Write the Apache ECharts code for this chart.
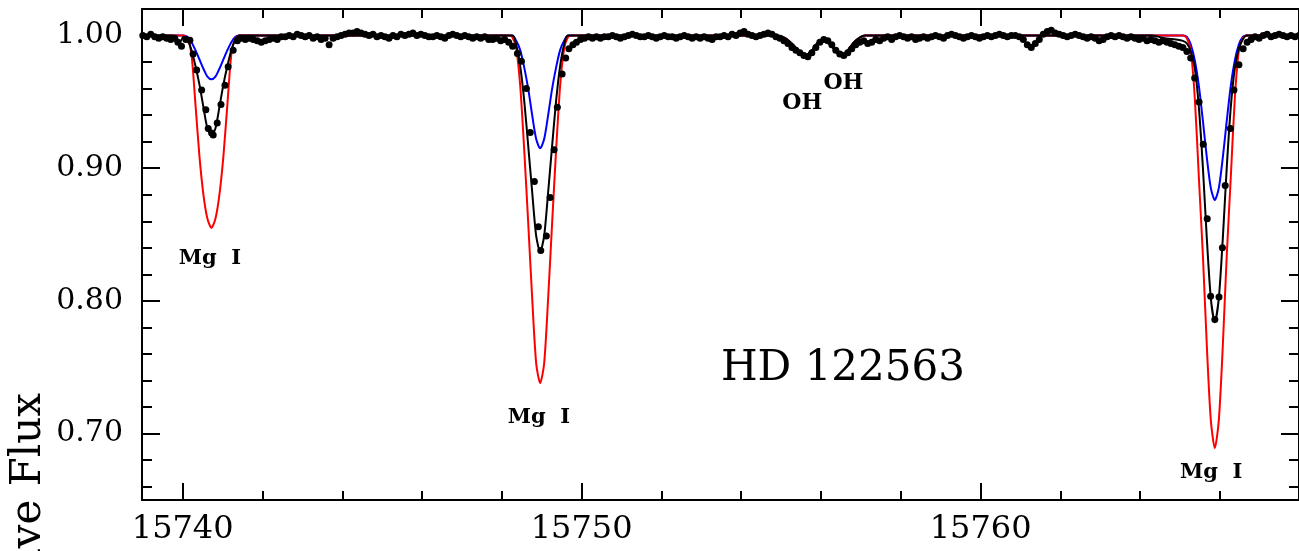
<!DOCTYPE html>
<html><head><meta charset="utf-8">
<script src="https://cdn.jsdelivr.net/npm/echarts@6/dist/echarts.min.js"></script>
<style>html,body{margin:0;padding:0;background:#fff}#c{width:1299px;height:551px}</style>
</head><body><div id="c"></div>
<script>
// ---- axis ranges and ticks ----
const xMin = 15738.98, xMax = 15767.98;
const yMin = 0.65, yMax = 1.02;
const xMajorTicks = [15740, 15750, 15760];
const xMinorTicks = [15740, 15742, 15744, 15746, 15748, 15750, 15752, 15754, 15756, 15758, 15760, 15762, 15764, 15766];
const yMajorTicks = [0.70, 0.80, 0.90, 1.00];
const yMinorTicks = [0.66, 0.68, 0.70, 0.72, 0.74, 0.76, 0.78, 0.80, 0.82, 0.84, 0.86, 0.88, 0.90, 0.92, 0.94, 0.96, 0.98, 1.00];

// ---- synthetic spectra [wavelength, flux] ----
const blueModel = [
 [15738.98,1.000],[15740.02,1.000],[15740.12,0.999],[15740.22,0.995],[15740.32,0.989],[15740.42,0.982],[15740.52,0.975],[15740.62,0.969],[15740.72,0.967],[15740.82,0.969],[15740.92,0.975],[15741.02,0.982],[15741.12,0.989],[15741.22,0.995],[15741.32,0.999],[15741.42,1.000],
 [15748.26,1.000],[15748.36,0.996],[15748.46,0.989],[15748.56,0.976],[15748.66,0.960],[15748.76,0.940],[15748.86,0.922],[15748.96,0.915],[15749.06,0.922],[15749.16,0.940],[15749.26,0.960],[15749.36,0.976],[15749.46,0.989],[15749.56,0.996],[15749.66,1.000],
 [15754.90,1.000],[15755.10,0.998],[15755.30,0.993],[15755.45,0.988],[15755.60,0.985],[15755.75,0.988],[15755.90,0.994],[15756.05,0.997],[15756.20,0.994],[15756.35,0.989],[15756.50,0.985],[15756.65,0.988],[15756.80,0.994],[15756.95,0.998],[15757.10,1.000],
 [15765.07,1.000],[15765.17,0.999],[15765.27,0.993],[15765.37,0.981],[15765.47,0.962],[15765.57,0.936],[15765.67,0.908],[15765.77,0.885],[15765.87,0.876],[15765.97,0.885],[15766.07,0.908],[15766.17,0.936],[15766.27,0.962],[15766.37,0.981],[15766.47,0.993],[15766.57,0.999],[15766.67,1.000],[15767.98,1.000]
];
const redModel = [
 [15738.98,1.000],[15740.02,1.000],[15740.12,0.998],[15740.22,0.986],[15740.32,0.948],[15740.42,0.909],[15740.52,0.880],[15740.62,0.862],[15740.72,0.855],[15740.82,0.862],[15740.92,0.880],[15741.02,0.909],[15741.12,0.948],[15741.22,0.986],[15741.32,0.998],[15741.42,1.000],
 [15748.16,1.000],[15748.26,0.999],[15748.36,0.990],[15748.46,0.962],[15748.56,0.914],[15748.66,0.859],[15748.76,0.802],[15748.86,0.753],[15748.96,0.738],[15749.06,0.753],[15749.16,0.802],[15749.26,0.859],[15749.36,0.914],[15749.46,0.962],[15749.56,0.990],[15749.66,0.999],[15749.76,1.000],
 [15754.90,1.000],[15755.10,0.998],[15755.30,0.993],[15755.45,0.988],[15755.60,0.985],[15755.75,0.988],[15755.90,0.994],[15756.05,0.997],[15756.20,0.994],[15756.35,0.989],[15756.50,0.985],[15756.65,0.988],[15756.80,0.994],[15756.95,0.998],[15757.10,1.000],
 [15765.07,1.000],[15765.17,0.998],[15765.27,0.988],[15765.37,0.952],[15765.47,0.893],[15765.57,0.835],[15765.67,0.766],[15765.77,0.710],[15765.87,0.689],[15765.97,0.710],[15766.07,0.766],[15766.17,0.835],[15766.27,0.893],[15766.37,0.952],[15766.47,0.988],[15766.57,0.998],[15766.67,1.000],[15767.98,1.000]
];
const blackModel = [
 [15738.98,1.000],[15739.75,1.000],[15739.85,0.998],[15739.93,0.995],[15740.02,0.999],[15740.12,0.997],[15740.22,0.989],[15740.32,0.977],[15740.42,0.963],[15740.52,0.946],[15740.62,0.930],[15740.72,0.925],[15740.82,0.930],[15740.92,0.946],[15741.02,0.963],[15741.12,0.977],[15741.22,0.989],[15741.32,0.997],[15741.42,1.000],
 [15748.26,1.000],[15748.36,0.993],[15748.46,0.977],[15748.56,0.951],[15748.66,0.917],[15748.76,0.882],[15748.86,0.849],[15748.96,0.837],[15749.06,0.849],[15749.16,0.882],[15749.26,0.917],[15749.36,0.951],[15749.46,0.977],[15749.56,0.993],[15749.66,1.000],
 [15754.90,1.000],[15755.10,0.998],[15755.30,0.993],[15755.45,0.988],[15755.60,0.985],[15755.75,0.988],[15755.90,0.994],[15756.05,0.997],[15756.20,0.994],[15756.35,0.989],[15756.50,0.985],[15756.65,0.988],[15756.80,0.994],[15756.95,0.998],[15757.10,1.000],
 [15764.30,1.000],[15764.60,0.998],[15764.90,0.997],[15765.07,0.996],[15765.17,0.994],[15765.27,0.988],[15765.37,0.975],[15765.47,0.946],[15765.57,0.901],[15765.67,0.847],[15765.77,0.802],[15765.87,0.784],[15765.97,0.802],[15766.07,0.847],[15766.17,0.901],[15766.27,0.946],[15766.37,0.975],[15766.47,0.990],[15766.57,0.997],[15766.67,1.000],[15767.98,1.000]
];

// ---- observed spectrum [wavelength, flux] ----
const observed = [
 [15739.00,1.000],[15739.10,0.999],[15739.20,1.001],[15739.30,0.999],[15739.40,0.998],[15739.50,0.999],[15739.60,0.998],[15739.70,0.997],[15739.80,0.998],[15739.88,0.995],[15739.97,0.992],[15740.08,0.997],[15740.18,0.9965],
 [15740.26,0.986],[15740.35,0.974],[15740.475,0.959],[15740.58,0.944],[15740.64,0.930],[15740.725,0.9266],[15740.765,0.925],[15740.865,0.934],[15740.96,0.948],[15741.06,0.9626],[15741.14,0.9764],[15741.265,0.989],[15741.37,0.996],
 [15741.47,0.998],[15741.57,0.997],[15741.67,0.998],[15741.77,0.997],[15741.87,0.996],[15741.97,0.995],[15742.07,0.996],[15742.17,0.997],[15742.27,0.998],[15742.37,0.997],
 [15742.47,0.999],[15742.57,0.999],[15742.67,1.000],[15742.77,0.999],[15742.87,1.001],[15742.97,1.000],[15743.07,0.999],[15743.17,1.000],[15743.27,0.998],[15743.37,0.999],
 [15743.47,0.997],[15743.57,0.998],[15743.67,0.993],[15743.77,0.998],[15743.87,0.999],[15743.97,1.000],[15744.07,1.001],[15744.17,1.002],[15744.27,1.002],[15744.37,1.003],
 [15744.47,1.002],[15744.57,1.001],[15744.67,1.000],[15744.77,1.001],[15744.87,0.999],[15744.97,1.000],[15745.07,0.999],[15745.17,0.998],[15745.27,1.000],[15745.37,0.999],
 [15745.47,1.001],[15745.57,1.000],[15745.67,1.001],[15745.77,1.002],[15745.87,1.000],[15745.97,1.001],[15746.07,1.000],[15746.17,0.999],[15746.27,0.999],[15746.37,1.000],
 [15746.47,0.999],[15746.57,0.998],[15746.67,1.000],[15746.77,1.001],[15746.87,1.000],[15746.97,0.999],[15747.07,1.000],[15747.17,0.999],[15747.27,0.998],[15747.37,0.999],
 [15747.47,0.998],[15747.57,0.999],[15747.67,0.997],[15747.77,0.997],[15747.87,0.998],[15747.97,0.996],[15748.07,0.997],[15748.17,0.995],[15748.27,0.992],[15748.39,0.9865],
 [15748.49,0.9807],[15748.615,0.960],[15748.71,0.927],[15748.815,0.890],[15748.915,0.856],[15748.975,0.838],[15749.115,0.849],[15749.21,0.878],[15749.31,0.914],[15749.39,0.946],
 [15749.51,0.971],[15749.60,0.983],[15749.68,0.990],[15749.78,0.993],[15749.87,0.995],[15749.97,0.997],[15750.07,0.998],
 [15750.17,0.999],[15750.27,0.998],[15750.37,0.999],[15750.47,0.998],[15750.57,0.999],[15750.67,0.999],[15750.77,1.000],[15750.87,0.999],[15750.97,0.998],[15751.07,0.999],
 [15751.17,1.000],[15751.27,1.001],[15751.37,1.000],[15751.47,0.999],[15751.57,0.999],[15751.67,1.000],[15751.77,0.999],[15751.87,0.998],[15751.97,0.999],[15752.07,1.000],
 [15752.17,0.999],[15752.27,0.999],[15752.37,0.998],[15752.47,0.999],[15752.57,1.000],[15752.67,0.999],[15752.77,0.998],[15752.87,0.999],[15752.97,0.998],[15753.07,0.999],
 [15753.17,0.998],[15753.27,0.997],[15753.37,0.999],[15753.47,0.999],[15753.57,1.000],[15753.67,0.999],[15753.77,1.001],[15753.87,1.000],[15753.97,1.002],[15754.07,1.003],
 [15754.17,1.001],[15754.27,1.000],[15754.37,0.999],[15754.47,1.000],[15754.57,1.001],[15754.67,1.002],[15754.77,1.001],[15754.87,0.999],[15754.97,0.998],[15755.07,0.996],
 [15755.17,0.994],[15755.27,0.991],[15755.37,0.989],[15755.47,0.987],[15755.57,0.985],[15755.67,0.984],[15755.77,0.987],[15755.87,0.991],[15755.97,0.995],[15756.07,0.997],
 [15756.17,0.996],[15756.27,0.993],[15756.37,0.989],[15756.47,0.986],[15756.57,0.985],[15756.67,0.987],[15756.77,0.990],[15756.87,0.993],[15756.97,0.995],[15757.07,0.996],
 [15757.17,0.994],[15757.27,0.995],[15757.37,0.997],[15757.47,0.996],[15757.57,0.998],[15757.67,0.999],[15757.77,0.997],[15757.87,0.999],[15757.97,1.000],[15758.07,0.999],
 [15758.17,0.998],[15758.27,0.999],[15758.37,0.997],[15758.47,0.998],[15758.57,0.999],[15758.67,0.998],[15758.77,0.999],[15758.87,1.000],[15758.97,0.999],[15759.07,0.998],
 [15759.17,1.000],[15759.27,1.001],[15759.37,1.000],[15759.47,0.999],[15759.57,0.998],[15759.67,0.999],[15759.77,1.000],[15759.87,0.999],[15759.97,0.998],[15760.07,0.999],
 [15760.17,1.000],[15760.27,0.999],[15760.37,1.000],[15760.47,1.001],[15760.57,1.000],[15760.67,0.999],[15760.77,1.000],[15760.87,1.000],[15760.97,0.999],[15761.07,0.997],
 [15761.17,0.993],[15761.27,0.991],[15761.37,0.994],[15761.47,0.997],[15761.57,1.001],[15761.67,1.003],[15761.77,1.004],[15761.87,1.002],[15761.97,1.001],[15762.07,1.000],
 [15762.17,0.999],[15762.27,1.000],[15762.37,1.001],[15762.47,1.000],[15762.57,0.999],[15762.67,0.998],[15762.77,0.999],[15762.87,0.998],[15762.97,0.996],[15763.07,0.997],
 [15763.17,0.999],[15763.27,1.000],[15763.37,0.999],[15763.47,1.000],[15763.57,0.999],[15763.67,0.998],[15763.77,0.999],[15763.87,0.998],[15763.97,0.997],[15764.07,0.998],
 [15764.17,0.996],[15764.27,0.997],[15764.37,0.996],[15764.47,0.995],[15764.57,0.996],[15764.67,0.995],[15764.77,0.994],[15764.87,0.993],[15764.97,0.992],[15765.07,0.991],
 [15765.17,0.988],[15765.265,0.983],[15765.365,0.968],[15765.475,0.950],[15765.58,0.918],[15765.68,0.862],[15765.765,0.8035],[15765.87,0.786],[15765.975,0.803],[15766.06,0.840],
 [15766.13,0.887],[15766.26,0.930],[15766.35,0.959],[15766.475,0.978],[15766.58,0.990],[15766.68,0.995],[15766.78,0.997],[15766.88,0.999],[15766.98,0.998],[15767.08,1.000],
 [15767.18,1.001],[15767.28,0.999],[15767.38,1.000],[15767.48,1.001],[15767.58,1.000],[15767.68,0.999],[15767.78,1.000],[15767.88,0.999],[15767.98,1.000]
];

// ---- annotations ----
const mgLabels = [[15740.68, 0.832, 'Mg  I'], [15748.93, 0.712, 'Mg  I'], [15765.78, 0.671, 'Mg  I']];
const ohLabels = [[15755.53, 0.949, 'OH'], [15756.56, 0.964, 'OH']];
const starLabel = [[15756.55, 0.749, 'HD 122563']];
const yTitle = 'Relative Flux';

const FONT = '"DejaVu Serif", "Liberation Serif", serif';
const AX = {color: '#000', width: 2};

function xAxisDef(pos, ticks, len, withLine, withLabel) {
  return {
    type: 'value', position: pos, min: xMin, max: xMax, gridIndex: 0,
    axisLine: {show: withLine, onZero: false, lineStyle: AX},
    axisTick: {show: true, inside: true, length: len, customValues: ticks, lineStyle: AX},
    axisLabel: withLabel ? {show: true, customValues: xMajorTicks, color: '#000', fontFamily: FONT, fontSize: 32, margin: 14,
                formatter: v => String(Math.round(v))} : {show: false},
    splitLine: {show: false}
  };
}
function yAxisDef(pos, ticks, len, withLine, withLabel) {
  return {
    type: 'value', position: pos, min: yMin, max: yMax, gridIndex: 0,
    axisLine: {show: withLine, onZero: false, lineStyle: AX},
    axisTick: {show: true, inside: true, length: len, customValues: ticks, lineStyle: AX},
    axisLabel: withLabel ? {show: true, customValues: yMajorTicks, color: '#000', fontFamily: FONT, fontSize: 30, margin: 19,
                formatter: v => v.toFixed(2)} : {show: false},
    splitLine: {show: false}
  };
}
function textSeries(data, size, weight) {
  return {type: 'scatter', data: data, symbolSize: 1, itemStyle: {color: 'rgba(0,0,0,0)', opacity: 1}, z: 6, silent: true,
    label: {show: true, position: 'inside', formatter: p => p.data[2], color: '#000', opacity: 1, fontFamily: FONT, fontSize: size, fontWeight: weight}};
}
function modelSeries(data, color, z) {
  return {type: 'line', data: data, symbol: 'none', smooth: 0.25, lineStyle: {color: color, width: 2}, z: z, silent: true};
}

const chart = echarts.init(document.getElementById('c'), null, {renderer: 'canvas'});
chart.setOption({
  animation: false,
  backgroundColor: '#fff',
  grid: {left: 142, top: 9, width: 1160, height: 491, containLabel: false},
  xAxis: [
    xAxisDef('bottom', xMajorTicks, 17, true, true),
    xAxisDef('bottom', xMinorTicks, 9, false, false),
    xAxisDef('top', xMajorTicks, 17, true, false),
    xAxisDef('top', xMinorTicks, 9, false, false)
  ],
  yAxis: [
    yAxisDef('left', yMajorTicks, 18, true, true),
    yAxisDef('left', yMinorTicks, 10, false, false),
    yAxisDef('right', yMajorTicks, 18, true, false),
    yAxisDef('right', yMinorTicks, 10, false, false)
  ],
  graphic: [{
    type: 'text', x: 29, y: 393, rotation: Math.PI / 2, silent: true,
    style: {text: yTitle, font: '42px ' + FONT, fill: '#000', align: 'right', textAlign: 'right', verticalAlign: 'middle', textVerticalAlign: 'middle'}
  }],
  series: [
    modelSeries(blueModel, '#0000ff', 2),
    modelSeries(redModel, '#ff0000', 3),
    modelSeries(blackModel, '#000000', 4),
    {type: 'scatter', data: observed, symbol: 'circle', symbolSize: 7, itemStyle: {color: '#000', opacity: 1}, z: 5, silent: true},
    textSeries(mgLabels, 21, 'bold'),
    textSeries(ohLabels, 22, 'bold'),
    textSeries(starLabel, 42, 'normal')
  ]
});
</script>
</body></html>
